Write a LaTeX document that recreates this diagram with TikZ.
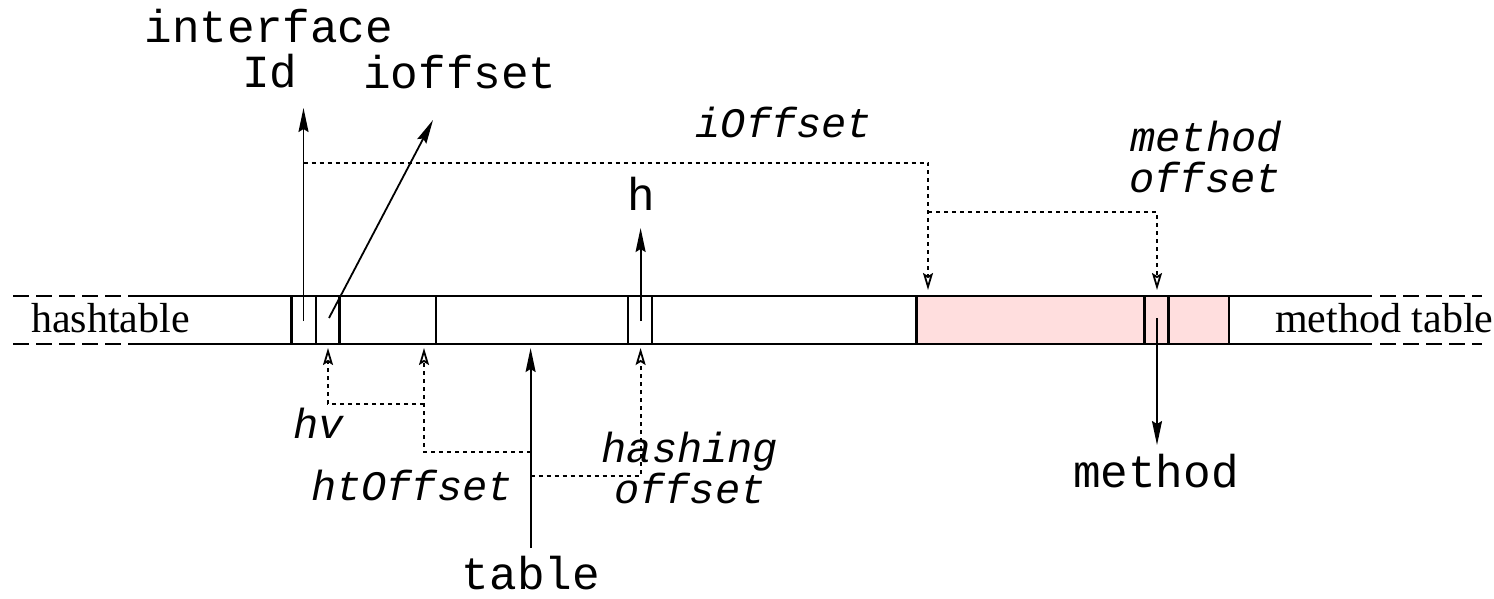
\documentclass[tikz,border=0pt]{standalone}
\usepackage{fontspec}
\setmainfont{Liberation Serif}
\newfontfamily\cour{Liberation Mono}
\usetikzlibrary{arrows.meta}
\definecolor{mtpink}{RGB}{255,222,222}
\begin{document}
\begin{tikzpicture}[x=1pt,y=-1pt,
  barline/.style={line width=2.4pt},
  barext/.style={line width=2.4pt, dash pattern=on 16pt off 7pt},
  cellline/.style={line width=2.2pt},
  dotline/.style={line width=1.8pt, dash pattern=on 4pt off 4pt},
  solidarrow/.style={line width=1.8pt, -{Stealth[length=24pt,width=10pt,inset=3pt]}},
  openarrow/.style={dotline, -{Stealth[open,length=17pt,width=10pt,inset=3pt,line width=1.8pt]}},
  mono/.style={font=\cour\fontsize{46}{50}\selectfont, inner sep=0pt, anchor=base},
  monoit/.style={font=\cour\itshape\fontsize{42}{46}\selectfont, inner sep=0pt, anchor=base},
  serifl/.style={font=\fontsize{42}{46}\selectfont, inner sep=0pt, anchor=base west}]
\useasboundingbox (0,0) rectangle (1494,599);

% pink region of method table
\fill[mtpink] (916.5,296) rectangle (1228.6,344);

% bar
\draw[barline] (129,296) -- (1372,296);
\draw[barline] (129,344) -- (1372,344);
\draw[barext] (13,296) -- (129,296);
\draw[barext] (13,344) -- (129,344);
\draw[barext] (1380,296) -- (1482,296);
\draw[barext] (1380,344) -- (1482,344);
\foreach \x in {291.5,316,339.5,436,628,652,916.5,1144.5,1168.5,1228.6}
  \draw[cellline] (\x,296) -- (\x,344);

% labels
\node[mono] (interface) at (269,43) {interface};
\node[mono] (id) at (270,88) {Id};
\node[mono] (ioffset) at (460,89) {ioffset};
\node[monoit] (iOffsetlbl) at (784,138) {iOffset};
\node[mono] (h) at (641,210) {h};
\node[monoit] (mo1) at (1206,152) {method};
\node[monoit] (mo2) at (1205,192) {offset};
\node[serifl] (hashtable) at (31,332) {hashtable};
\node[serifl] (methodtable) at (1275,332) {method table};
\node[monoit] (hv) at (319,438) {hv};
\node[monoit] (htoffset) at (412,500) {htOffset};
\node[monoit] (ho1) at (690,462) {hashing};
\node[monoit] (ho2) at (690,503) {offset};
\node[mono] (table) at (531,589) {table};
\node[mono] (method) at (1156,487) {method};

% coordinates for arrow ends
\coordinate (idtail) at (303.5,321);
\coordinate (idtip) at (303.5,108);
\coordinate (iotail) at (329,318);
\coordinate (iotip) at (433,120);
\coordinate (htail) at (640.6,321);
\coordinate (htip) at (640.6,228);
\coordinate (mtail) at (1157,318);
\coordinate (mtip) at (1157,445);
\coordinate (ttail) at (530.6,548);
\coordinate (ttip) at (530.6,348);

\coordinate (iostart) at (303.5,163);
\coordinate (iocorner) at (928,163);
\coordinate (mtabtip) at (928,290);
\coordinate (mostart) at (928,212);
\coordinate (mocorner) at (1157,212);
\coordinate (metip) at (1157,290);

\coordinate (hvtip) at (328,348);
\coordinate (hvcorner) at (328,404);
\coordinate (hvend) at (424,404);
\coordinate (httip) at (424,348);
\coordinate (htcorner) at (424,452);
\coordinate (htend) at (530.6,452);
\coordinate (hotip) at (640.6,348);
\coordinate (hocorner) at (640.6,476);
\coordinate (hoend) at (530.6,476);

% solid arrows
\draw[solidarrow] (idtail) -- (idtip);
\draw[solidarrow] (iotail) -- (iotip);
\draw[solidarrow] (htail) -- (htip);
\draw[solidarrow] (mtail) -- (mtip);
\draw[solidarrow] (ttail) -- (ttip);

% dotted offset arrows
\draw[openarrow] (iostart) -- (iocorner) -- (mtabtip);
\draw[openarrow] (mostart) -- (mocorner) -- (metip);
\draw[openarrow] (hvend) -- (hvcorner) -- (hvtip);
\draw[openarrow] (htend) -- (htcorner) -- (httip);
\draw[openarrow] (hoend) -- (hocorner) -- (hotip);
\end{tikzpicture}
\end{document}
